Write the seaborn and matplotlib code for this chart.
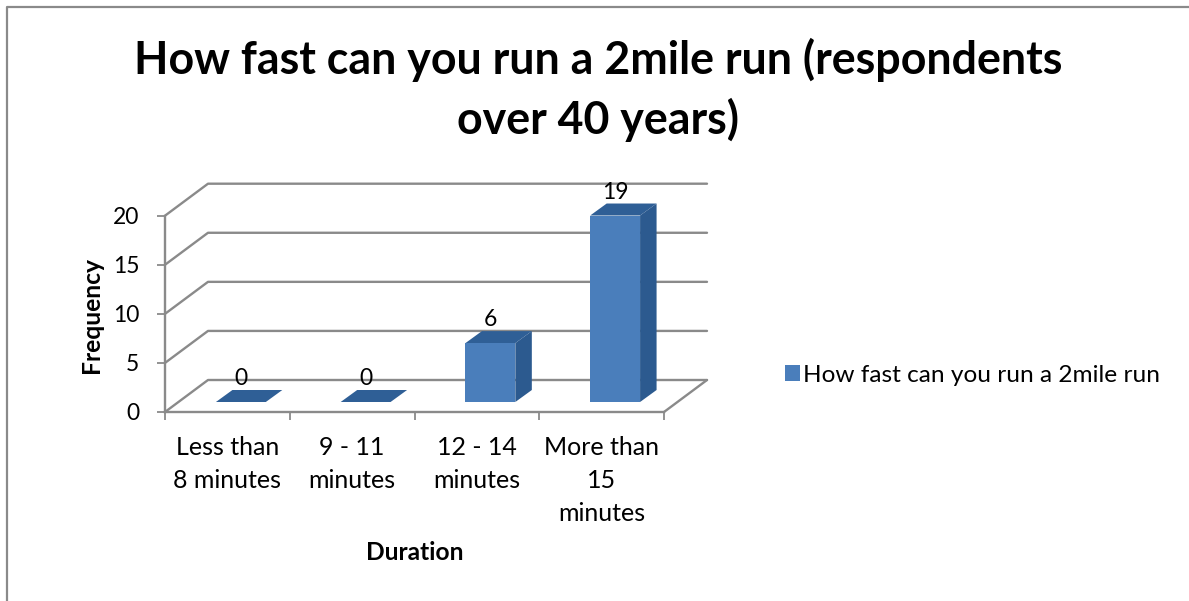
import numpy as np
import pandas as pd
import matplotlib
matplotlib.use("Agg")
import matplotlib.pyplot as plt
from matplotlib.lines import Line2D
from matplotlib.patches import Patch, Polygon
import seaborn as sns

categories = ["Less than\n8 minutes", "9 - 11\nminutes", "12 - 14\nminutes", "More than\n15\nminutes"]
values = [0, 0, 6, 19]
y_ticks = [0, 5, 10, 15, 20]
series_name = "How fast can you run a 2mile run"
title = "How fast can you run a 2mile run (respondents\nover 40 years)"

W, H = 1189, 601
sns.set_theme(style="white")
plt.rcParams["font.family"] = ["Lato", "DejaVu Sans"]
GRAY = "#8a8a8a"
FRONT, TOP, SIDE = "#4a7ebb", "#2f5f96", "#2c5a8f"

fig = plt.figure(figsize=(W / 100, H / 100), dpi=100, facecolor="white")

def rect(x0, ytop, x1, ybot):
    return [x0 / W, 1 - ybot / H, (x1 - x0) / W, (ybot - ytop) / H]

# Front plane of the chart: holds the axis, ticks and labels
X0, X1, Y0, Y20 = 165, 664, 412, 215.7
ax = fig.add_axes(rect(X0, Y20, X1, Y0), zorder=2)
ax.patch.set_alpha(0)
ax.set_xlim(-0.5, 3.5)
ax.set_ylim(0, 20)
px_x = (X1 - X0) / 4
px_y = (Y0 - Y20) / 20

# Back wall and floor, offset from the front plane
WX, WY = 43 / px_x, 32 / px_y
lw = 1.7
for t in y_ticks:
    ax.add_line(Line2D([-0.5, -0.5 + WX, 3.5 + WX], [t, t + WY, t + WY], color=GRAY, lw=lw, clip_on=False, zorder=1))
ax.add_line(Line2D([3.5, 3.5 + WX], [0, WY], color=GRAY, lw=lw, clip_on=False, zorder=1))

for s in ["top", "right"]:
    ax.spines[s].set_visible(False)
for s in ["left", "bottom"]:
    ax.spines[s].set_color(GRAY)
    ax.spines[s].set_linewidth(lw)
ax.set_xticks(np.arange(-0.5, 4, 1))
ax.set_xticklabels([])
ax.set_yticks(y_ticks)
ax.tick_params(axis="both", length=5.5, width=1.3, color=GRAY, labelcolor="black", labelsize=16.5, pad=13, left=True, bottom=True)
for i, c in enumerate(categories):
    ax.text(i, -2.45, c, ha="center", va="top", fontsize=18, color="black", linespacing=1.53)
fig.text(91 / W, 1 - 315 / H, "Frequency", rotation=90, ha="center", va="center", fontsize=17.7, fontweight="bold", color="black")
fig.text(415 / W, 1 - 553 / H, "Duration", ha="center", va="center", fontsize=17.7, fontweight="bold", color="black")

# Plane of the bar fronts, behind the front plane
BX, BY = 13.5, 10
bax = fig.add_axes(rect(X0 + BX, Y20 - BY, X1 + BX, Y0 - BY), zorder=3)
bax.patch.set_alpha(0)
df = pd.DataFrame({"duration": categories, "freq": values})
BAR_W = 0.4
sns.barplot(data=df, x="duration", y="freq", color=FRONT, saturation=1, width=BAR_W, ax=bax, zorder=5, linewidth=0)
bax.set_xlim(-0.5, 3.5)
bax.set_ylim(0, 20)
bax.axis("off")

DX, DY = 16.5 / px_x, 12 / px_y
for i, v in enumerate(values):
    l, r = i - BAR_W / 2, i + BAR_W / 2
    bax.add_patch(Polygon([(l, v), (r, v), (r + DX, v + DY), (l + DX, v + DY)], closed=True, fc=TOP, ec="none", clip_on=False, zorder=4))
    if v > 0:
        bax.add_patch(Polygon([(r, 0), (r, v), (r + DX, v + DY), (r + DX, DY)], closed=True, fc=SIDE, ec="none", clip_on=False, zorder=4))
    bax.text(i, v + 1.3, str(v), ha="center", va="bottom", fontsize=16.5, color="black", zorder=6, clip_on=False)

# Legend
leg = fig.legend(handles=[Patch(fc=FRONT, ec="none", label=series_name)], loc="center left",
                 bbox_to_anchor=(785 / W, 1 - 375 / H), frameon=False, fontsize=17.6, labelcolor="black",
                 handlelength=0.62, handleheight=0.62, handletextpad=0.12, borderpad=0, borderaxespad=0)

fig.text(598 / W, 1 - 90 / H, title, ha="center", va="center", fontsize=32.2, fontweight="bold", color="black", linespacing=1.42)

# Chart-area frame
fig.add_artist(Line2D([7 / W, 7 / W, 1], [0, 1 - 7 / H, 1 - 7 / H], color=GRAY, lw=1.6))

fig.savefig("out.png", dpi=100)
